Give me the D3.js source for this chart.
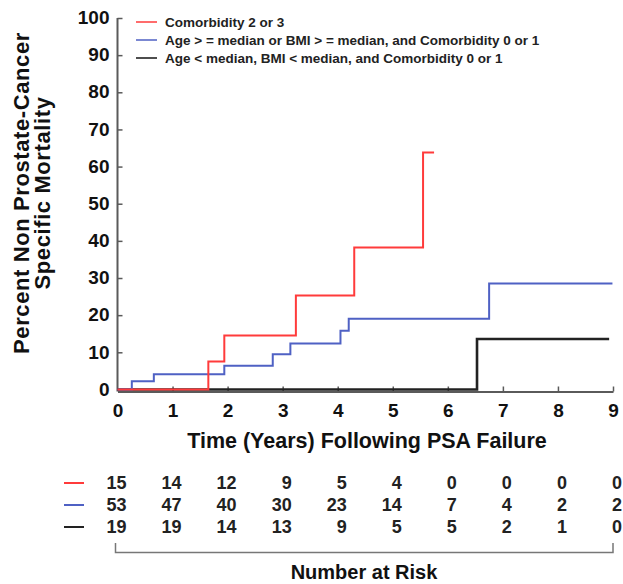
<!DOCTYPE html>
<html>
<head>
<meta charset="utf-8">
<script src="https://cdn.jsdelivr.net/npm/d3@7"></script>
<style>
  body{margin:0;background:#fff;}
  svg{display:block;font-family:Arial,"Liberation Sans",sans-serif;}
</style>
</head>
<body>
<svg id="chart" width="623" height="584"></svg>
<script>
// ===== data =====
const groupNames = [
  'Comorbidity 2 or 3',
  'Age > = median or BMI > = median, and Comorbidity 0 or 1',
  'Age < median, BMI < median, and Comorbidity 0 or 1'
];
const groupColors = ['#ff3b3b', '#4f61c4', '#222222'];

// step curves: [time, percent]
const redSteps = [[0,0],[1.65,7.5],[1.94,14.5],[3.24,25.3],[4.3,38.2],[5.55,63.8],[5.75,63.8]];
const blueSteps = [[0,0],[0.26,2.2],[0.66,4.1],[1.94,6.4],[2.82,9.5],[3.14,12.4],[4.05,15.8],[4.2,19.0],[6.75,28.5],[8.99,28.5]];
const blackSteps = [[0,0],[6.53,13.6],[8.93,13.6]];

const riskTimes = [0,1,2,3,4,5,6,7,8,9];
const riskRed = [15,14,12,9,5,4,0,0,0,0];
const riskBlue = [53,47,40,30,23,14,7,4,2,2];
const riskBlack = [19,19,14,13,9,5,5,2,1,0];

const yTicks = [0,10,20,30,40,50,60,70,80,90,100];
const xTicks = [0,1,2,3,4,5,6,7,8,9];

// ===== chart =====
const svg = d3.select('#chart');
const x = d3.scaleLinear().domain([0,9]).range([117.5,613]);
const y = d3.scaleLinear().domain([-0.5,100]).range([391.3,18]);
const axisY0 = 391.5;
const axisColor = '#5a5a5a';

// axes
const gx = svg.append('g').attr('transform', `translate(0,${axisY0})`)
  .call(d3.axisBottom(x).tickValues(xTicks).tickSizeInner(-5).tickSizeOuter(0).tickPadding(11).tickFormat(d3.format('d')));
const gy = svg.append('g').attr('transform', `translate(${x(0)},0)`)
  .call(d3.axisLeft(y).tickValues(yTicks).tickSizeInner(-5).tickSizeOuter(0).tickPadding(8));
gy.select('.domain').attr('d', `M0,${y(100)}V${axisY0}`);
gy.selectAll('.tick').filter(d => d === 0).select('line').remove();
gx.selectAll('.tick').filter(d => d === 0).select('line').remove();

[gx, gy].forEach(g => {
  g.select('.domain').attr('stroke', axisColor).attr('stroke-width', 2);
  g.selectAll('.tick line').attr('stroke', axisColor).attr('stroke-width', 1.5);
  g.selectAll('.tick text').attr('fill', '#111').style('font-size', '19px').style('font-weight', 'bold');
});
gy.selectAll('.tick text').attr('dy', '0.3em');
gx.selectAll('.tick text').attr('dy', '0.75em');

// curves
const stepLine = d3.line().x(d => x(d[0])).y(d => y(d[1])).curve(d3.curveStepAfter);
const curves = [
  {pts: blackSteps, c: groupColors[2], w: 2.6},
  {pts: blueSteps, c: groupColors[1], w: 2},
  {pts: redSteps, c: groupColors[0], w: 2}
];
svg.append('g').selectAll('path').data(curves).join('path')
  .attr('d', d => stepLine(d.pts))
  .attr('fill', 'none')
  .attr('stroke', d => d.c)
  .attr('stroke-width', d => d.w);

// legend
const leg = svg.append('g');
const legRows = [22, 40, 58];
groupNames.forEach((name, i) => {
  leg.append('line').attr('x1', 136).attr('x2', 157).attr('y1', legRows[i]).attr('y2', legRows[i])
    .attr('stroke', groupColors[i]).attr('stroke-width', 2).attr('opacity', i === 2 ? 0.8 : 0.75);
  leg.append('text').attr('x', 165).attr('y', legRows[i]).attr('dy', '0.35em')
    .style('font-size', '13.5px').style('font-weight', 'bold').attr('fill', '#222').text(name);
});

// axis titles
const yTitle = svg.append('text')
  .attr('transform', 'translate(29,193) rotate(-90)')
  .attr('text-anchor', 'middle')
  .style('font-size', '22px').style('font-weight', 'bold').style('letter-spacing', '0.6px').attr('fill', '#111');
yTitle.append('tspan').attr('x', 0).attr('dy', 0).text('Percent Non Prostate-Cancer');
yTitle.append('tspan').attr('x', 0).attr('dy', 21).text('Specific Mortality');

svg.append('text').attr('x', 367).attr('y', 448).attr('text-anchor', 'middle')
  .style('font-size', '21.5px').style('font-weight', 'bold').attr('fill', '#111')
  .text('Time (Years) Following PSA Failure');

// number at risk table
const riskRows = [riskRed, riskBlue, riskBlack];
const rowY = [483, 505, 527];
riskRows.forEach((vals, i) => {
  svg.append('line').attr('x1', 64).attr('x2', 84).attr('y1', rowY[i]).attr('y2', rowY[i])
    .attr('stroke', groupColors[i]).attr('stroke-width', 2);
  svg.append('g').selectAll('text').data(vals).join('text')
    .attr('x', (d, j) => x(riskTimes[j]) + 9)
    .attr('y', rowY[i]).attr('dy', '0.36em')
    .attr('text-anchor', 'end')
    .style('font-size', '18px').style('font-weight', 'bold').attr('fill', '#222')
    .text(d => d);
});

// bracket
svg.append('path')
  .attr('d', `M${x(0) - 2},543V552.5H${x(9)}V543`)
  .attr('fill', 'none').attr('stroke', '#777').attr('stroke-width', 1.5);
svg.append('text').attr('x', 364).attr('y', 579).attr('text-anchor', 'middle')
  .style('font-size', '20px').style('font-weight', 'bold').attr('fill', '#111')
  .text('Number at Risk');
</script>
</body>
</html>
